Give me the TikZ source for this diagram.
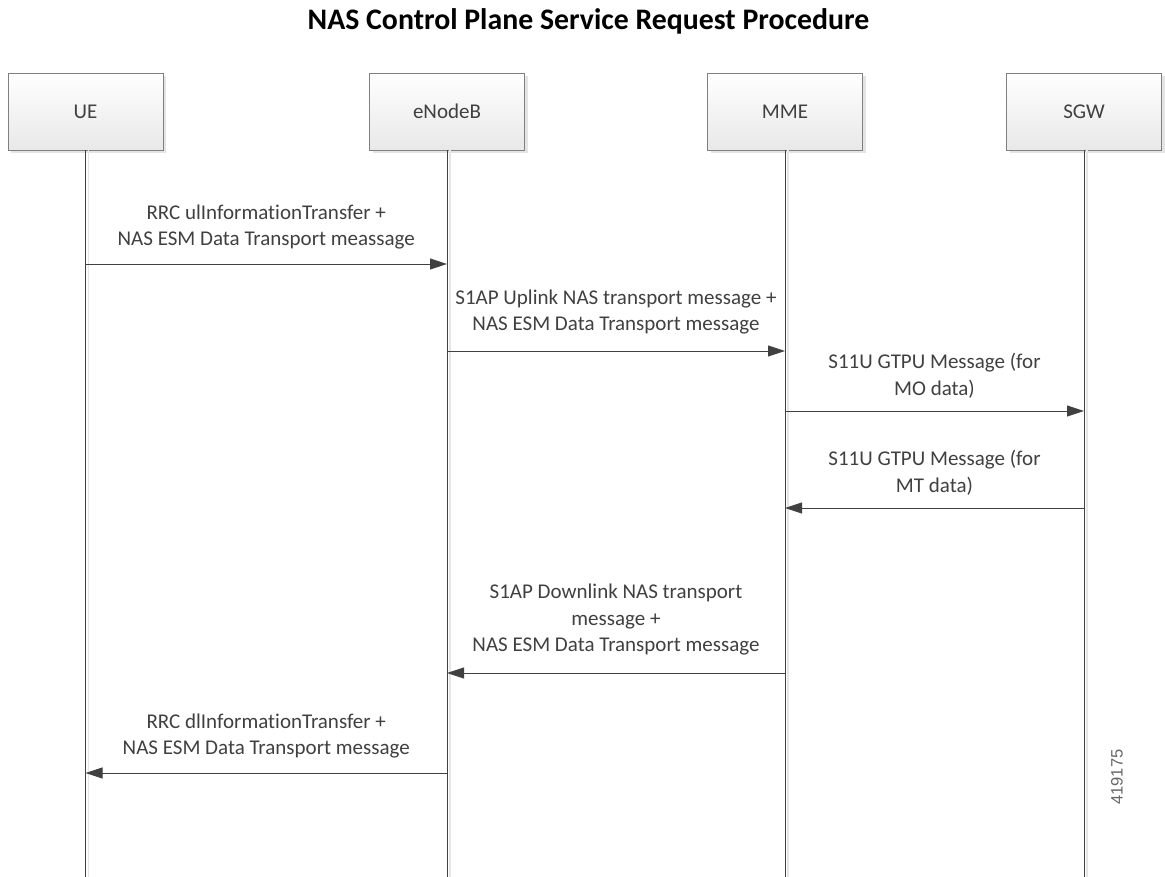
\documentclass[tikz,border=0pt]{standalone}
\usepackage{fontspec}
\setmainfont{Carlito}[Ligatures=NoCommon]
\newfontfamily\numfont{Liberation Sans}
\usepackage{tikz}
\usetikzlibrary{arrows.meta,positioning,shadows}

\definecolor{linegray}{HTML}{404040}
\definecolor{boxedge}{HTML}{808080}

\tikzset{
  entity/.style={draw=boxedge, top color=white, bottom color=gray!18,
    minimum width=155pt, minimum height=77pt, text=linegray,
    text height=13.5pt, text depth=0pt,
    font=\fontsize{21}{25}\selectfont,
    drop shadow={shadow xshift=3pt, shadow yshift=-3pt, fill=gray!35, opacity=.6}},
  lifeline/.style={draw=linegray, line width=0.9pt},
  lifeshade/.style={draw=gray!20, line width=1.6pt},
  msg/.style={draw=linegray, line width=0.9pt, -{Triangle[length=17pt,width=11pt]}},
  msglabel/.style={align=center, text=linegray, font=\fontsize{21}{26.5}\selectfont}
}

\begin{document}
\begin{tikzpicture}[x=1pt, y=-1pt]
        \useasboundingbox (0,0) rectangle (1165,877);

        % Title
        \node[anchor=base, font=\bfseries\fontsize{29.8}{34}\selectfont, text=black] (title) at (588.5,29.5) {NAS Control Plane Service Request Procedure};

        % Entities
        \node[entity] (ue)  at (85.5,111.5) {UE};
        \node[entity] (enb) at (447,111.5)  {eNodeB};
        \node[entity] (mme) at (785,111.5)  {MME};
        \node[entity] (sgw) at (1084,111.5) {SGW};

        % Lifelines
        \foreach \n in {ue,enb,mme,sgw} {
          \draw[lifeshade] ([xshift=3pt]\n.south) -- ([xshift=3pt]\n.south |- 0,877);
          \draw[lifeline] (\n.south) -- (\n.south |- 0,877);
        }

        % Uplink
        \draw[msg] (ue |- 0,264) -- (enb |- 0,264)
          node[msglabel, midway, above=11pt] {RRC ulInformationTransfer +\\NAS ESM Data Transport meassage};
        \draw[msg] (enb |- 0,351) -- (mme |- 0,351)
          node[msglabel, midway, above=13pt] {S1AP Uplink NAS transport message +\\NAS ESM Data Transport message};
        \draw[msg] (mme |- 0,411) -- (sgw |- 0,411)
          node[msglabel, midway, above=9pt] {S11U GTPU Message (for\\MO data)};

        % Downlink
        \draw[msg] (sgw |- 0,508) -- (mme |- 0,508)
          node[msglabel, midway, above=9pt] {S11U GTPU Message (for\\MT data)};
        \draw[msg] (mme |- 0,673) -- (enb |- 0,673)
          node[msglabel, midway, above=14pt] {S1AP Downlink NAS transport\\message +\\NAS ESM Data Transport message};
        \draw[msg] (enb |- 0,773) -- (ue |- 0,773)
          node[msglabel, midway, above=11pt] {RRC dlInformationTransfer +\\NAS ESM Data Transport message};

        % Figure number
        \node[rotate=90, text=gray!80!black, font=\numfont\fontsize{16.5}{18}\selectfont] (fignum) at (1117,777) {419175};
\end{tikzpicture}
\end{document}
